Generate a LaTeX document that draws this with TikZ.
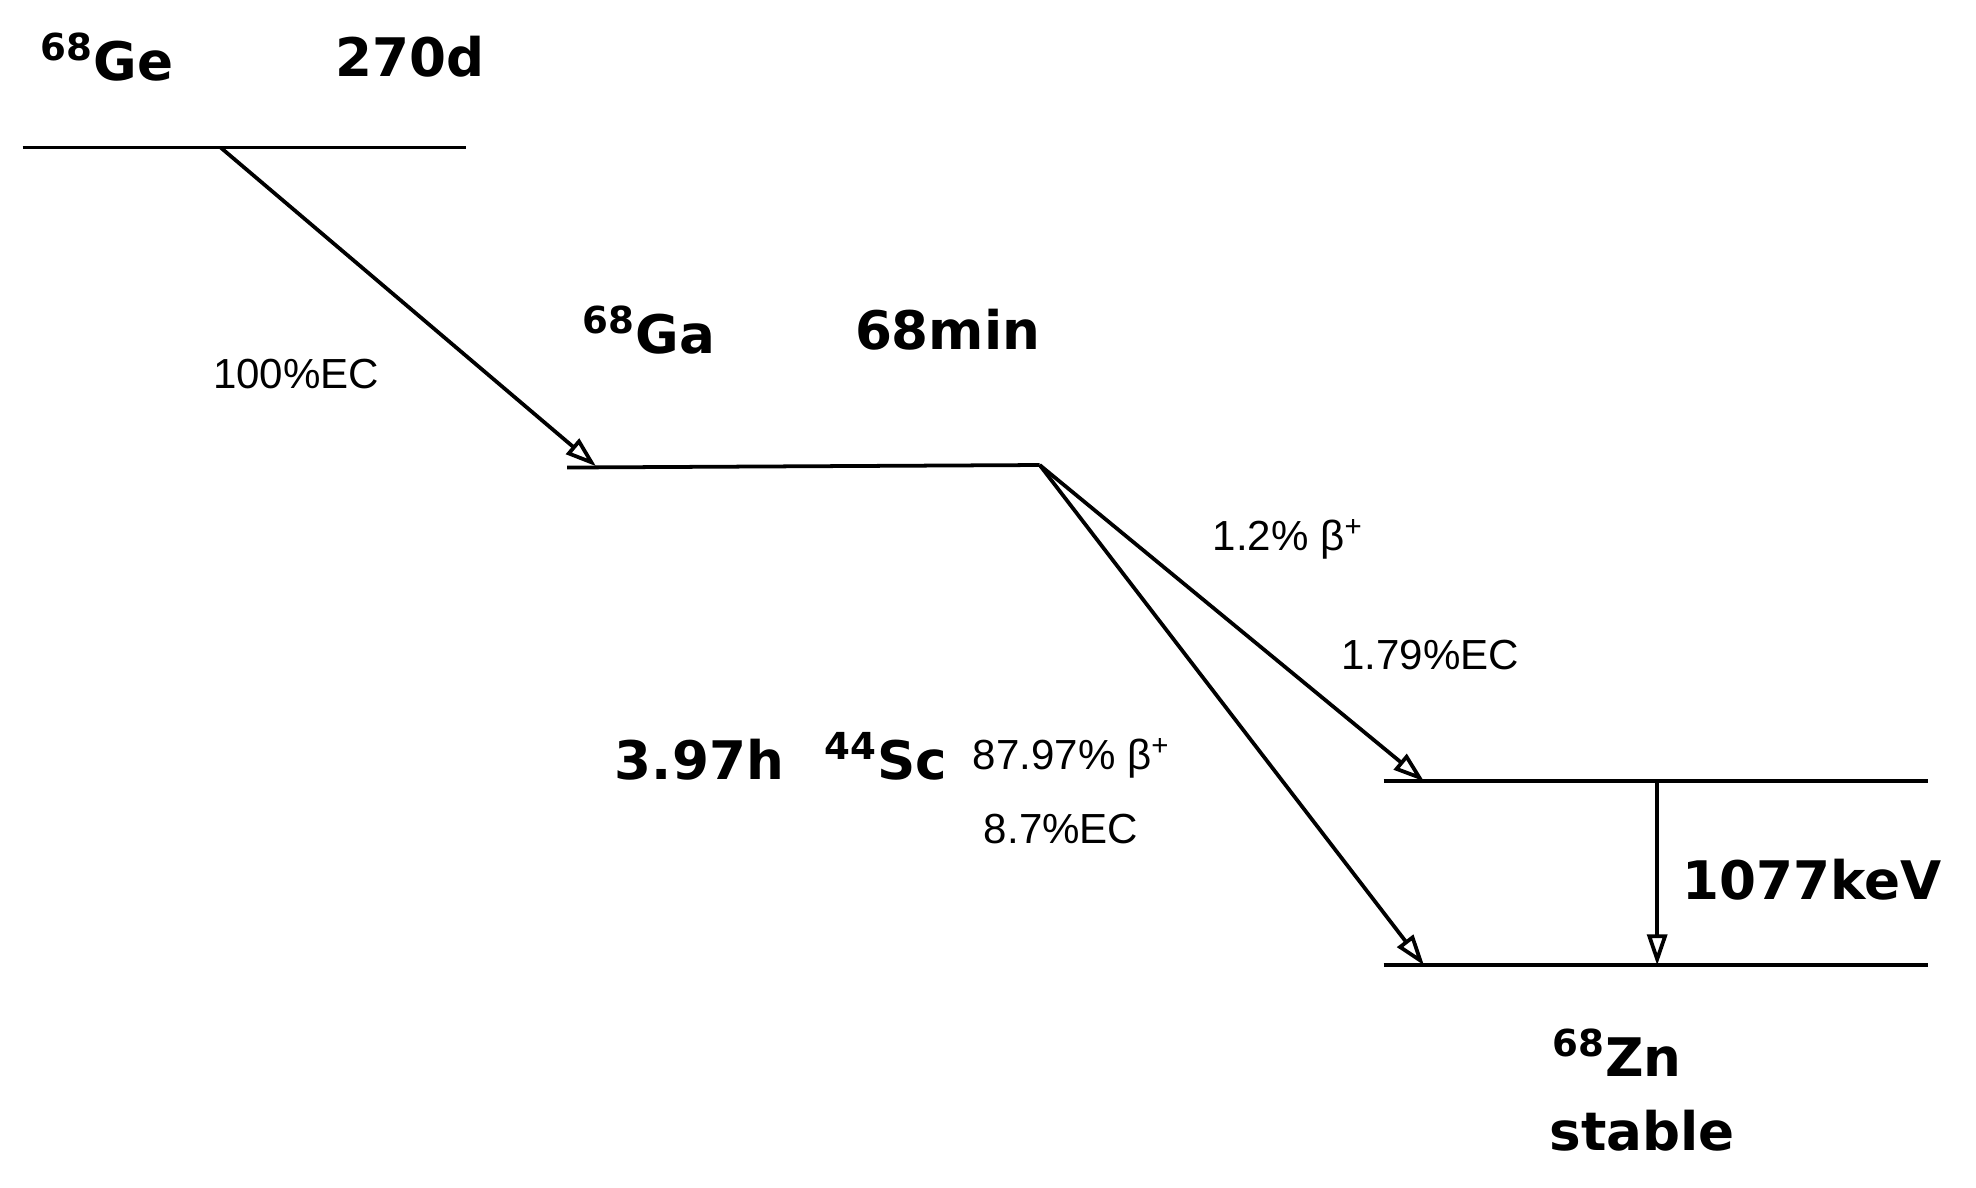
\documentclass[tikz,border=0pt]{standalone}
\usepackage{fontspec}
\setmainfont{Liberation Sans}
\newfontfamily\bigf{DejaVu Sans}
\usetikzlibrary{arrows.meta}
\begin{document}
\begin{tikzpicture}[x=0.02cm,y=-0.02cm,
  lvl/.style={line width=1.7pt},
  arr/.style={line width=1.7pt,-{Stealth[length=14pt,width=9pt,inset=0pt,open]}},
  bt/.style={font=\bigf\bfseries\fontsize{24}{28}\selectfont,inner sep=0pt},
  rt/.style={font=\fontsize{19}{22}\selectfont,inner sep=0pt}]
\useasboundingbox (0,0) rectangle (1568,942);
\coordinate (ge1) at (18,117); \coordinate (ge2) at (370,117);
\coordinate (geo) at (175,117);
\coordinate (ga1) at (450,371); \coordinate (ga2) at (825,369);
\coordinate (gai) at (473,370);
\coordinate (e1) at (1098,620); \coordinate (e2) at (1530,620);
\coordinate (g1) at (1098,766); \coordinate (g2) at (1530,766);
\coordinate (ein) at (1130,620); \coordinate (gin) at (1130,766);
\coordinate (vt) at (1315,620); \coordinate (vb) at (1315,766);
\draw[lvl] (ge1) -- (ge2);
\draw[lvl] (ga1) -- (ga2);
\draw[lvl] (e1) -- (e2);
\draw[lvl] (g1) -- (g2);
\draw[arr] (geo) -- (gai);
\draw[arr] (ga2) -- (ein);
\draw[arr] (ga2) -- (gin);
\draw[arr] (vt) -- (vb);
\node[bt] (ge) at (85,45) {\textsuperscript{68}Ge};
\node[bt] (get) at (325,45) {270d};
\node[rt] (ec1) at (235,297) {100\%EC};
\node[bt] (ga) at (515,262) {\textsuperscript{68}Ga};
\node[bt] (gat) at (752,262) {68min};
\node[rt] (b1) at (1022,428) {1.2\% β\textsuperscript{+}};
\node[rt] (ec2) at (1135,520) {1.79\%EC};
\node[bt] (sct) at (555,603) {3.97h};
\node[bt] (sc) at (703,600) {\textsuperscript{44}Sc};
\node[rt] (b2) at (850,602) {87.97\% β\textsuperscript{+}};
\node[rt] (ec3) at (842,658) {8.7\%EC};
\node[bt] (kev) at (1438,698) {1077keV};
\node[bt] (zn) at (1283,835) {\textsuperscript{68}Zn};
\node[bt] (st) at (1303,897) {stable};
\end{tikzpicture}
\end{document}
